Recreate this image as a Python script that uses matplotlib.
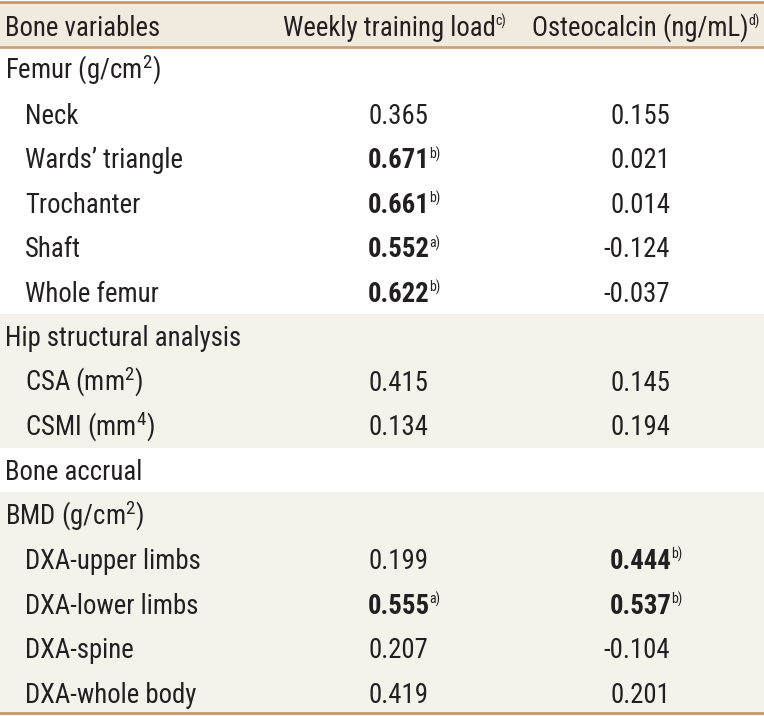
import matplotlib.pyplot as plt
from matplotlib.patches import Rectangle

# table content
labels = ["Femur (g/cm$^2$)", "Neck", "Wards\u2019 triangle", "Trochanter", "Shaft",
          "Whole femur", "Hip structural analysis", "CSA (mm$^2$)", "CSMI (mm$^4$)",
          "Bone accrual", "BMD (g/cm$^2$)", "DXA-upper limbs", "DXA-lower limbs",
          "DXA-spine", "DXA-whole body"]
indent = [0, 1, 1, 1, 1, 1, 0, 1, 1, 0, 0, 1, 1, 1, 1]
shaded = [0, 0, 0, 0, 0, 0, 1, 1, 1, 0, 1, 1, 1, 1, 1]
load = ["", "0.365", "0.671", "0.661", "0.552", "0.622", "", "0.415", "0.134",
        "", "", "0.199", "0.555", "0.207", "0.419"]
load_mark = ["", "", "b)", "b)", "a)", "b)", "", "", "", "", "", "", "a)", "", ""]
osteo = ["", "0.155", "0.021", "0.014", "-0.124", "-0.037", "", "0.145", "0.194",
         "", "", "0.444", "0.537", "-0.104", "0.201"]
osteo_mark = ["", "", "", "", "", "", "", "", "", "", "", "b)", "b)", "", ""]
headers = ["Bone variables", "Weekly training load", "Osteocalcin (ng/mL)"]
header_marks = ["", "c)", "d)"]

FONT = ["Roboto Condensed", "DejaVu Sans"]
plt.rcParams["mathtext.fontset"] = "custom"
plt.rcParams["mathtext.rm"] = "Roboto Condensed"
plt.rcParams["mathtext.it"] = "Roboto Condensed"
FS = 19.3
SUP = 10
TXT = "#231f20"

fig = plt.figure(figsize=(7.64, 7.16), dpi=100)
ax = fig.add_axes([0, 0, 1, 1])
ax.set_xlim(0, 764)
ax.set_ylim(716, 0)
ax.axis("off")

top, head_bot, pitch = 1.5, 47, 44.5

ax.add_patch(Rectangle((0, top), 764, head_bot - top, color="#f1eadf", zorder=0))
for i, s in enumerate(shaded):
    if s:
        ax.add_patch(Rectangle((0, head_bot + i * pitch), 764, pitch,
                               color="#f5f1eb", lw=0, zorder=0))
ax.axhline(top, color="#c49a6c", lw=2)
ax.axhline(head_bot, color="#c8a47a", lw=2)
ax.axhline(713, color="#c49a6c", lw=2)

fig.canvas.draw()
renderer = fig.canvas.get_renderer()
inv = ax.transData.inverted()


def width(t):
    bb = t.get_window_extent(renderer)
    return inv.transform((bb.x1, 0))[0] - inv.transform((bb.x0, 0))[0]


def put(x, y, s, mark="", bold=False):
    w = "bold" if bold else "normal"
    if s.startswith("-"):
        m = ax.text(0, 0, "-", fontsize=FS, family=FONT, fontweight=w)
        x -= width(m)
        m.remove()
    t = ax.text(x, y, s, fontsize=FS, family=FONT, color=TXT, va="baseline",
                fontweight=w)
    if mark:
        bb = t.get_window_extent(renderer)
        xe = inv.transform((bb.x1, 0))[0]
        ax.text(xe - 0.5, y - 10, mark, fontsize=SUP, family=FONT, color=TXT,
                va="baseline")


col_x = [5, 283, 532]
for x, h, m in zip(col_x, headers, header_marks):
    put(x, 35.5, h, m)

for i, lab in enumerate(labels):
    y = 79 + i * 44.55
    put(5 + 20 * indent[i], y, lab)
    if load[i]:
        put(368, y, load[i], load_mark[i], bold=bool(load_mark[i]))
    if osteo[i]:
        put(610, y, osteo[i], osteo_mark[i], bold=bool(osteo_mark[i]))

fig.savefig("out.png", dpi=100)
